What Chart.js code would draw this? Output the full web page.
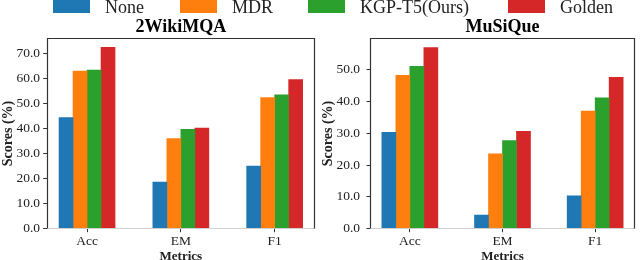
<!DOCTYPE html>
<html>
<head>
<meta charset="utf-8">
<script src="https://cdn.jsdelivr.net/npm/chart.js@4"></script>
<style>
  body { margin: 0; background: #fff; width: 640px; height: 260px; overflow: hidden; position: relative; font-family: "Liberation Serif", serif; }
  .panel { position: absolute; top: 0; width: 320px; height: 260px; }
  #legend { position: absolute; left: 0; top: 0; width: 640px; height: 20px; z-index: 2; }
  .box { position: absolute; top: 0; width: 37px; height: 12.5px; }
  .lab { position: absolute; top: -2px; font-size: 18px; line-height: 18px; color: #222; white-space: nowrap; }
</style>
</head>
<body>
<div id="legend"></div>
<div class="panel" style="left:0"><canvas id="wiki" width="320" height="260"></canvas></div>
<div class="panel" style="left:320px"><canvas id="musique" width="320" height="260"></canvas></div>
<script>
// categories / series
const metrics = ['Acc', 'EM', 'F1'];
const methods = ['None', 'MDR', 'KGP-T5(Ours)', 'Golden'];
const colors = ['#1f77b4', '#ff7f0e', '#2ca02c', '#d62728'];

// 2WikiMQA scores
const wikiNone = [44.5, 18.7, 25.1];
const wikiMDR = [63.1, 36.1, 52.5];
const wikiKGP = [63.5, 39.8, 53.6];
const wikiGolden = [72.6, 40.3, 59.7];

// MuSiQue scores
const musNone = [30.3, 4.3, 10.3];
const musMDR = [48.2, 23.5, 37.0];
const musKGP = [51.0, 27.7, 41.1];
const musGolden = [56.9, 30.6, 47.6];

// legend (html, spans both panels)
const legendBoxX = [53, 180, 308, 508];
const leg = document.getElementById('legend');
methods.forEach((m, i) => {
  const b = document.createElement('div');
  b.className = 'box';
  b.style.left = legendBoxX[i] + 'px';
  b.style.background = colors[i];
  leg.appendChild(b);
  const t = document.createElement('div');
  t.className = 'lab';
  t.style.left = (legendBoxX[i] + 52) + 'px';
  t.textContent = m;
  leg.appendChild(t);
});

// box round the plot area
const frame = {
  id: 'frame',
  afterDraw(chart) {
    const ctx = chart.ctx, a = chart.chartArea;
    const l = Math.round(a.left) + 0.5, r = Math.round(a.right) - 0.5;
    const t = Math.round(a.top) + 0.5, b = Math.round(a.bottom) - 0.5;
    ctx.save();
    ctx.lineWidth = 1;
    ctx.strokeStyle = '#d0d0d0';
    ctx.beginPath(); ctx.moveTo(l, b); ctx.lineTo(r, b); ctx.stroke();
    ctx.lineWidth = 1.2;
    ctx.strokeStyle = '#333';
    ctx.beginPath(); ctx.moveTo(l, b); ctx.lineTo(l, t); ctx.lineTo(r, t); ctx.lineTo(r, b); ctx.stroke();
    ctx.restore();
  }
};

const serif = 'Liberation Serif';
const tickGrid = { display: true, drawOnChartArea: false, drawTicks: true, tickLength: 3.5, color: '#333', lineWidth: 1, offset: false };

function makeChart(id, title, series, yMax, yAxisW) {
  new Chart(document.getElementById(id), {
    type: 'bar',
    data: {
      datasets: series.map((s, i) => ({
        label: methods[i],
        data: s.map((v, j) => ({ x: j, y: v })),
        backgroundColor: colors[i],
        barThickness: 14,
        borderWidth: 0
      }))
    },
    options: {
      responsive: false,
      animation: false,
      layout: { padding: { left: 0, right: 5, top: 0, bottom: 0 } },
      plugins: {
        legend: { display: false },
        tooltip: { enabled: false },
        title: {
          display: true, text: title, fullSize: false, color: '#000',
          font: { family: serif, size: 18, weight: 'bold' },
          padding: { top: 16.4, bottom: 0.3 }
        }
      },
      scales: {
        x: {
          type: 'linear', min: -0.43, max: 2.43, offset: false,
          grid: tickGrid,
          border: { display: false },
          ticks: {
            stepSize: 1, includeBounds: false, padding: 1.5, color: '#222',
            font: { family: serif, size: 13.5 },
            callback: v => metrics[v] || ''
          },
          title: {
            display: true, text: 'Metrics', color: '#222',
            font: { family: serif, size: 13, weight: 'bold' },
            padding: { top: 0, bottom: -4.5 }
          },
          afterFit: s => { s.height = 31.3; }
        },
        y: {
          min: 0, max: yMax,
          grid: tickGrid,
          border: { display: false },
          ticks: {
            stepSize: 10, includeBounds: false, padding: yAxisW - 43.5, color: '#222',
            font: { family: serif, size: 13.5 },
            callback: v => v.toFixed(1)
          },
          title: {
            display: true, text: 'Scores (%)', color: '#222',
            font: { family: serif, size: 14, weight: 'bold' },
            padding: { top: 0, bottom: 0 }
          },
          afterFit: s => { s.width = yAxisW; }
        }
      }
    },
    plugins: [frame]
  });
}

makeChart('wiki', '2WikiMQA', [wikiNone, wikiMDR, wikiKGP, wikiGolden], 76.2, 46.7);
makeChart('musique', 'MuSiQue', [musNone, musMDR, musKGP, musGolden], 59.85, 50);
</script>
</body>
</html>
